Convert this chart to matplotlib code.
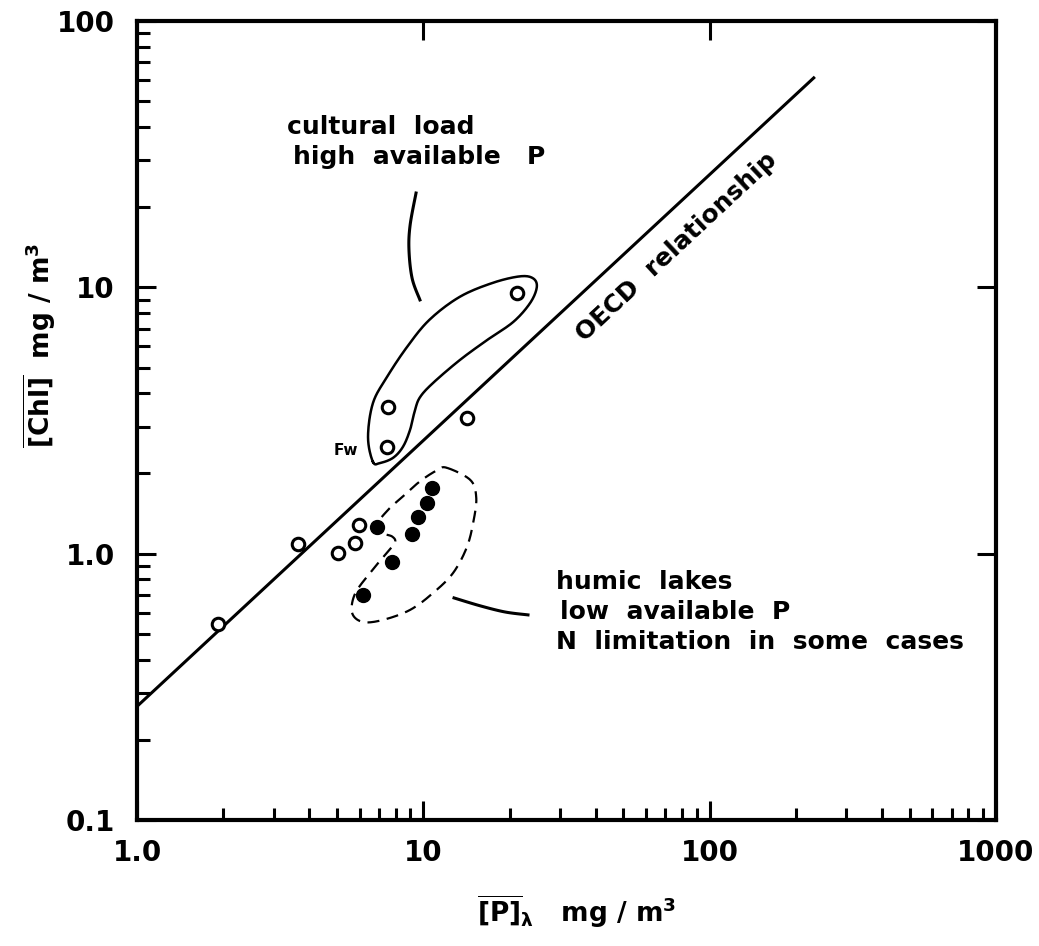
import numpy as np
import matplotlib
matplotlib.use("Agg")
import matplotlib.pyplot as plt

plt.rcParams['font.family'] = ['DejaVu Sans']
plt.rcParams['mathtext.fontset'] = 'custom'
plt.rcParams['mathtext.rm'] = 'DejaVu Sans:bold'
plt.rcParams['mathtext.it'] = 'DejaVu Sans:bold'
plt.rcParams['mathtext.bf'] = 'DejaVu Sans:bold'

# lakes, open circles
open_p = [1.92, 3.65, 5.03, 5.77, 5.96, 7.47, 7.53, 14.2, 21.2]
open_chl = [0.545, 1.09, 1.01, 1.10, 1.28, 2.52, 3.56, 3.23, 9.53]

# humic lakes, filled circles
humic_p = [6.15, 7.78, 6.89, 9.13, 9.58, 10.3, 10.7]
humic_chl = [0.70, 0.93, 1.26, 1.19, 1.37, 1.55, 1.77]

# OECD relationship end points
oecd_p = [1.0, 233.0]
oecd_chl = [0.267, 61.7]

# outline round the cultural load group
cult_p = [6.67, 6.41, 6.67, 7.47, 8.77, 10.5, 13.4, 17.5, 21.8, 24.2, 24.9, 23.6,
          20.6, 16.7, 13.4, 10.8, 9.74, 9.35, 8.99, 8.49, 7.84, 7.06]
cult_chl = [2.21, 2.74, 3.68, 4.61, 5.97, 7.55, 9.21, 10.4, 11.0, 10.8, 10.0, 8.73,
            7.41, 6.34, 5.33, 4.37, 3.87, 3.46, 2.92, 2.52, 2.29, 2.19]

# dashed outline round the humic lakes
hum_p = [12.1, 14.6, 15.3, 15.0, 14.2, 12.7, 10.8, 8.99, 7.23, 6.15, 5.64, 5.77,
         6.51, 7.35, 7.96, 7.78, 7.23, 6.78, 7.53, 8.43, 9.74, 11.2]
hum_chl = [2.10, 1.89, 1.63, 1.34, 1.06, 0.846, 0.711, 0.615, 0.564, 0.554, 0.599, 0.706,
           0.846, 0.989, 1.10, 1.16, 1.19, 1.26, 1.46, 1.63, 1.87, 2.06]

# leader lines
lead1_p = [9.43, 8.99, 8.91, 9.14, 9.73]
lead1_chl = [22.6, 17.1, 13.8, 10.8, 8.97]
lead2_p = [12.8, 15.8, 19.3, 23.2]
lead2_chl = [0.682, 0.637, 0.604, 0.589]


def spline(xs, ys, closed=True, n=16):
    pts = np.column_stack([np.log10(xs), np.log10(ys)])
    m = len(pts)
    if not closed:
        pts = np.vstack([pts[:1], pts, pts[-1:]])
    out = []
    rng = range(m) if closed else range(1, m)
    for i in rng:
        if closed:
            p0, p1, p2, p3 = pts[(i - 1) % m], pts[i], pts[(i + 1) % m], pts[(i + 2) % m]
        else:
            p0, p1, p2, p3 = pts[i - 1], pts[i], pts[i + 1], pts[i + 2]
        t = np.linspace(0, 1, n, endpoint=False)[:, None]
        seg = 0.5 * (2 * p1 + (-p0 + p2) * t + (2 * p0 - 5 * p1 + 4 * p2 - p3) * t ** 2
                     + (-p0 + 3 * p1 - 3 * p2 + p3) * t ** 3)
        out.append(seg)
    out = np.vstack(out + [out[0][:1]] if closed else out + [pts[-2:-1]])
    return 10 ** out[:, 0], 10 ** out[:, 1]


fig = plt.figure(figsize=(10.39, 9.46), dpi=100)
ax = fig.add_axes([137 / 1039, 1 - 820 / 946, (996 - 137) / 1039, (820 - 21) / 946])
ax.set_xscale('log')
ax.set_yscale('log')
ax.set_xlim(1, 1000)
ax.set_ylim(0.1, 100)

ax.plot(oecd_p, oecd_chl, color='black', lw=2.2, solid_capstyle='butt')
ax.plot(open_p, open_chl, 'o', ms=9, mfc='white', mec='black', mew=2.2)
ax.plot(humic_p, humic_chl, 'o', ms=10, mfc='black', mec='black')

cx, cy = spline(cult_p, cult_chl)
ax.plot(cx, cy, color='black', lw=1.8)
hx, hy = spline(hum_p, hum_chl)
ax.plot(hx, hy, color='black', lw=1.6, ls=(0, (5.4, 3.4)))
lx, ly = spline(lead1_p, lead1_chl, closed=False)
ax.plot(lx, ly, color='black', lw=2.2)
lx, ly = spline(lead2_p, lead2_chl, closed=False)
ax.plot(lx, ly, color='black', lw=2.2)

tf = dict(fontsize=18, fontweight='bold', va='center', ha='left')
ax.text(3.34, 40.0, 'cultural  load', **tf)
ax.text(3.51, 30.9, 'high  available   P', **tf)
ax.text(5.37, 2.43, 'Fw', fontsize=11, fontweight='bold', ha='center', va='center')
ax.text(76.9, 14.2, 'OECD  relationship', fontsize=18, fontweight='bold',
        rotation=43, ha='center', va='center')
ax.text(29.1, 0.784, 'humic  lakes', **tf)
ax.text(30.0, 0.604, 'low  available  P', **tf)
ax.text(29.1, 0.466, 'N  limitation  in  some  cases', **tf)

ax.set_xticks([1, 10, 100, 1000])
ax.set_xticklabels(['1.0', '10', '100', '1000'])
ax.set_yticks([0.1, 1, 10, 100])
ax.set_yticklabels(['0.1', '1.0', '10', '100'])
for lab in ax.get_xticklabels() + ax.get_yticklabels():
    lab.set_fontsize(20)
    lab.set_fontweight('bold')

ax.tick_params(which='major', direction='in', length=14, width=2.2,
               top=True, right=True)
ax.tick_params(axis='x', which='major', pad=14)
ax.tick_params(axis='y', which='major', pad=16)
ax.tick_params(which='minor', direction='in', length=9, width=2.2,
               top=False, right=False)
for s in ax.spines.values():
    s.set_linewidth(3)

fig.text(40 / 1039, 1 - 345 / 946, r'$\overline{[\mathrm{Chl}]}$  mg / m$^3$',
         rotation=90, fontsize=19, fontweight='bold', ha='center', va='center')
fig.text(577 / 1039, 1 - 912 / 946, r'$\overline{[\mathrm{P}]}_{\lambda}$   mg / m$^3$',
         fontsize=19, fontweight='bold', ha='center', va='center')

fig.savefig('out.png', dpi=100, facecolor='white')
